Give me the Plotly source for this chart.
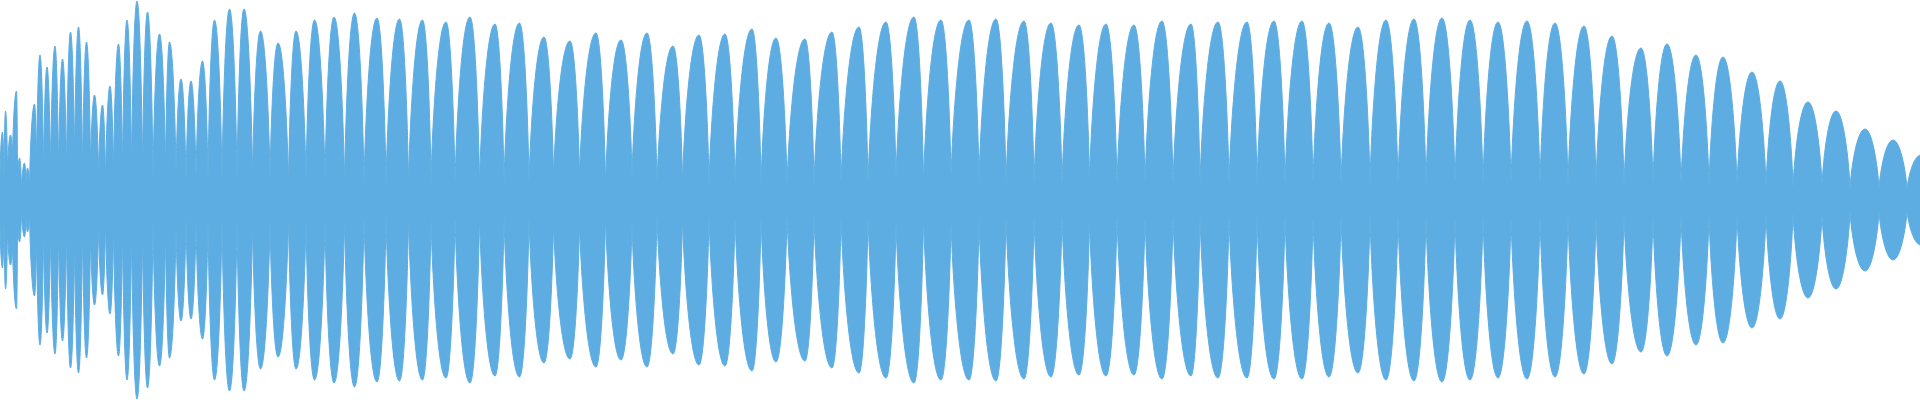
import plotly.graph_objects as go

# Waveform envelope (x in pixels along the track, amplitude in pixels from the centre line)
valley_x = [0, 4, 7.5, 12.5, 17.5, 21.5, 26, 29.5, 36.5, 43.5, 50.5, 58.5, 66.5, 74.5, 82.5, 90.5,
            98.5, 105.5, 113.5, 122.5, 131.5, 142.5, 153, 165.5, 176, 186, 196, 208, 222, 237, 252.5,
            270, 288.5, 306, 325, 344.5, 364, 386, 408.5, 431, 455, 479.5, 504, 529, 553.5, 579.5,
            605.5, 632, 657, 682.5, 709, 735, 761, 787, 814, 841, 868, 896, 923.5, 951, 979, 1006,
            1034, 1062, 1089.5, 1117, 1145, 1173, 1200, 1229, 1257, 1285, 1313, 1341, 1370, 1398,
            1426, 1455, 1483, 1511, 1540, 1568, 1596, 1624, 1653, 1681, 1709, 1737, 1766, 1793,
            1822, 1850, 1879, 1907, 1935]

pinch_amp = [24, 11, 25, 41, 19, 9, 15, 0, 28, 19, 20, 17, 18, 31, 15, 25,
             18, 12, 19, 18, 20, 20, 13, 21, 20, 12, 16, 13, 11, 12, 15,
             15, 10, 13, 13, 7, 7, 10, 8, 13, 8, 7, 11, 11, 17, 17,
             9, 18, 9, 12, 10, 8, 7, 7, 7, 7, 9, 15, 10, 15, 13, 6,
             7, 9, 13, 7, 8, 7, 9, 6, 10, 7, 7, 7, 10, 8,
             8, 8, 8, 8, 8, 8, 8, 8, 10, 7, 5, 8, 7, 6,
             12, 8, 7, 4, 8]

peak_x = [2.5, 5.5, 10.5, 16.5, 19.5, 24.5, 27.5, 34.5, 40, 47, 55, 62.5, 70.5, 78.5, 86.5, 94.5,
          102.5, 110, 118.5, 127, 137, 147.5,
          159.5, 169.5, 181, 191, 202.5, 214.5, 229.5, 244, 260.5, 278, 296,
          314.5, 334, 354.5, 377, 399.5, 422.5, 446, 470,
          495, 519.5, 544, 570, 596, 621, 647,
          673, 699, 725, 752, 776, 805, 832,
          859, 886, 914, 941, 969, 996, 1024,
          1051, 1079, 1106, 1134, 1162, 1191,
          1218, 1247, 1274, 1302, 1329, 1358,
          1386, 1414, 1442, 1470, 1498, 1527, 1555, 1584, 1612,
          1641, 1667, 1696, 1723, 1752, 1780, 1808, 1836, 1865, 1893, 1921]

peak_amp = [68, 89, 65, 109, 42, 37, 32, 96, 145, 133, 154, 141, 168, 173, 158, 105,
            95, 114, 156, 180, 199, 188,
            166, 158, 121, 119, 139, 180, 191, 191, 169, 157, 169,
            180, 183, 187, 182, 181, 180, 178, 183,
            176, 177, 163, 159, 167, 160, 167,
            154, 165, 166, 171, 162, 161, 168,
            173, 178, 183, 180, 180, 181, 179,
            177, 175, 176, 175, 179, 176,
            178, 178, 179, 179, 177, 173,
            180, 181, 182, 180, 178, 179, 177, 174, 164,
            152, 156, 145, 143, 128, 119, 98, 89, 71, 60, 45]

band_half = 9.5
x_start, x_end = 0, 1920

assert len(valley_x) == len(pinch_amp) == len(peak_x) + 1 == len(peak_amp) + 1

COLOR = "#5DADE2"
K_RISE, K_TOP = 0.2, 0.6   # bezier handle fractions for the lobe outline

fig = go.Figure()

# thin continuous centre band
fig.add_trace(go.Scatter(
    x=[x_start, x_end, x_end, x_start, x_start],
    y=[band_half, band_half, -band_half, -band_half, band_half],
    mode="lines", fill="toself", fillcolor=COLOR,
    line=dict(color=COLOR, width=0), hoverinfo="skip"))


def f(v):
    return f"{v:.3f}"


shapes = []
for i in range(len(peak_x)):
    xl, xr = valley_x[i], valley_x[i + 1]
    pl = max(pinch_amp[i], band_half)
    pr = max(pinch_amp[i + 1], band_half)
    px, a = peak_x[i], peak_amp[i]
    c1l = pl + K_RISE * (a - pl)
    c1r = pr + K_RISE * (a - pr)
    hl = px - K_TOP * (px - xl)
    hr = px + K_TOP * (xr - px)
    path = (
        f"M {f(xl)},{f(pl)} "
        f"C {f(xl)},{f(c1l)} {f(hl)},{f(a)} {f(px)},{f(a)} "
        f"C {f(hr)},{f(a)} {f(xr)},{f(c1r)} {f(xr)},{f(pr)} "
        f"L {f(xr)},{f(-pr)} "
        f"C {f(xr)},{f(-c1r)} {f(hr)},{f(-a)} {f(px)},{f(-a)} "
        f"C {f(hl)},{f(-a)} {f(xl)},{f(-c1l)} {f(xl)},{f(-pl)} Z"
    )
    shapes.append(dict(type="path", path=path, xref="x", yref="y",
                       fillcolor=COLOR, line=dict(color=COLOR, width=1), layer="above"))

fig.update_layout(
    width=1920, height=400,
    margin=dict(l=0, r=0, t=0, b=0),
    paper_bgcolor="white", plot_bgcolor="white",
    showlegend=False,
    shapes=shapes,
    xaxis=dict(visible=False, range=[x_start, x_end], fixedrange=True),
    yaxis=dict(visible=False, range=[-200, 200], fixedrange=True),
)

fig.write_html("out.html", config={"displayModeBar": False, "staticPlot": True},
               post_script="document.body.style.margin='0';document.body.style.overflow='hidden';")
